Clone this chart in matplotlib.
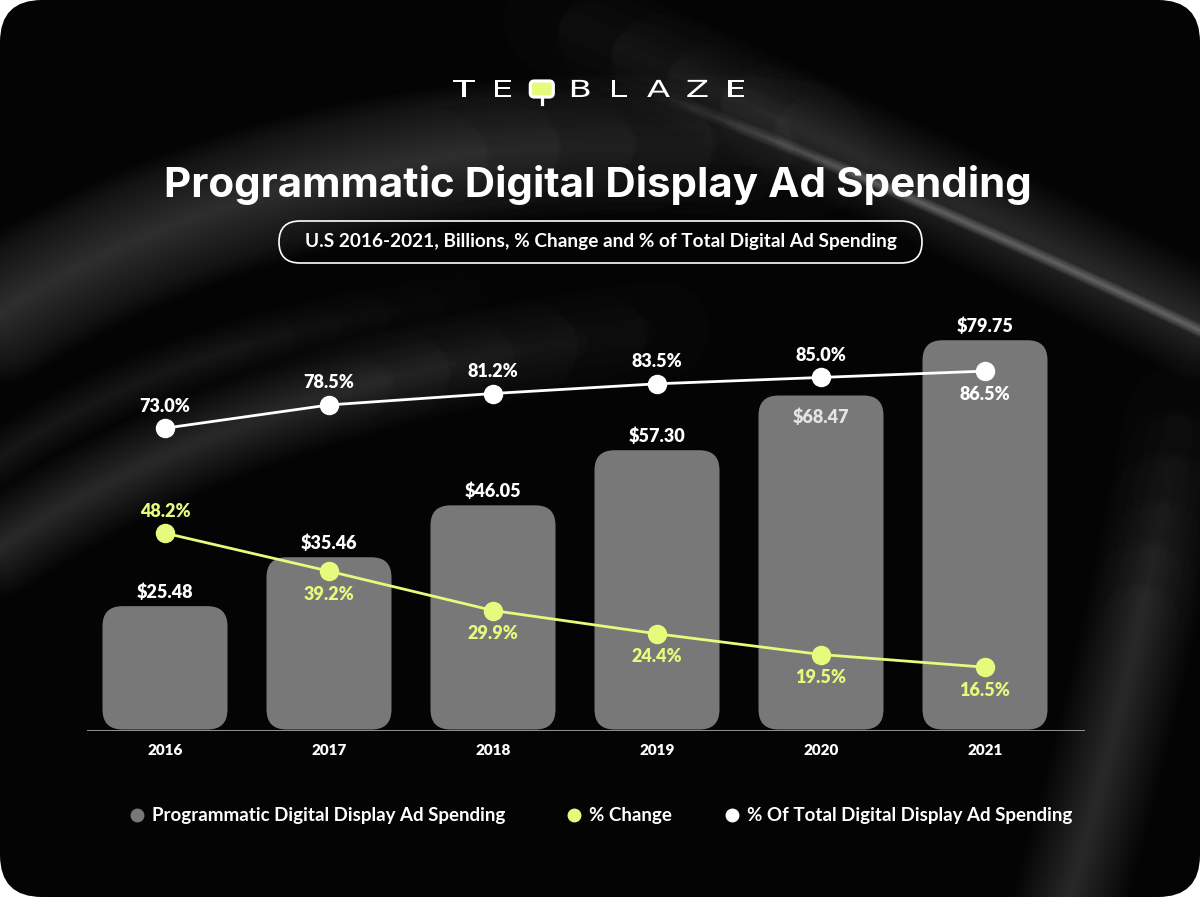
import numpy as np
import matplotlib
matplotlib.use("Agg")
import matplotlib.pyplot as plt
from matplotlib.patches import FancyBboxPatch, PathPatch
from matplotlib.textpath import TextPath
from matplotlib.font_manager import FontProperties
from matplotlib.transforms import Affine2D

# ---------- data ----------
years = ["2016", "2017", "2018", "2019", "2020", "2021"]
spending = [25.48, 35.46, 46.05, 57.30, 68.47, 79.75]
pct_change = [48.2, 39.2, 29.9, 24.4, 19.5, 16.5]
pct_total = [73.0, 78.5, 81.2, 83.5, 85.0, 86.5]

BAR_C = "#787878"
GREEN = "#e6fa7c"
WHITE = "#ffffff"
FONT = ["Lato", "DejaVu Sans"]
TITLE_FONT = ["Inter", "Lato", "DejaVu Sans"]

W, H = 1200, 897
fig = plt.figure(figsize=(12, 8.97), dpi=100, facecolor="white")

# ---------- background (pixel coords) ----------
bg = fig.add_axes([0, 0, 1, 1])
bg.set_xlim(0, W)
bg.set_ylim(H, 0)
bg.axis("off")
card = FancyBboxPatch((0, 0), W, H, boxstyle="round,pad=0,rounding_size=42",
                      fc="#040404", ec="none", zorder=0.5)
bg.add_patch(card)


def bezier(p0, p1, p2, n=160):
    t = np.linspace(0, 1, n)[:, None]
    pts = (1 - t) ** 2 * np.array(p0) + 2 * (1 - t) * t * np.array(p1) + t ** 2 * np.array(p2)
    return pts


def soft(p0, p1, p2, width, strength, color="#d0d0d0", fade_start=False, fade_end=False):
    # stack of faint strokes; layers stop at staggered points so the ends fade out
    pts = bezier(p0, p1, p2)
    n = len(pts)
    steps = 18
    for k in range(steps):
        lw = width * (1 - k / steps)
        f = ((k * 7) % steps) / steps
        i0 = int(n * 0.4 * f) if fade_start else 0
        i1 = n - int(n * 0.4 * f) if fade_end else n
        seg = pts[i0:i1]
        ln, = bg.plot(seg[:, 0], seg[:, 1], color=color, lw=lw, alpha=strength / steps,
                      solid_capstyle="round", zorder=0.8)
        ln.set_clip_path(card)


# swooshes
soft((560, 20), (900, 170), (1230, 340), 80, 0.22, fade_start=True)
soft((660, 95), (930, 200), (1230, 345), 10, 0.45, "#e8e8e8", fade_start=True)
soft((-40, 340), (280, 110), (800, 150), 100, 0.25, fade_end=True)
soft((-40, 575), (220, 380), (660, 330), 70, 0.22, fade_end=True)
soft((-40, 490), (120, 350), (460, 300), 40, 0.15, fade_end=True)
soft((1180, 420), (1130, 700), (1060, 930), 80, 0.18, fade_start=True)
soft((20, 900), (300, 760), (740, 800), 90, 0.10, fade_end=True)

# ---------- logo ----------
logo_prop = FontProperties(family="DejaVu Sans")
for i, ch in enumerate("TEQBLAZE"):
    x = 464 + i * 38.9
    if ch == "Q":
        bg.add_patch(FancyBboxPatch((x - 11.5, 81), 23, 16,
                                    boxstyle="round,pad=0,rounding_size=4",
                                    fc=GREEN, ec="white", lw=2.3, zorder=3))
        bg.plot([x, x], [97, 104], color="white", lw=2.3, zorder=3)
        continue
    tp = TextPath((0, 0), ch, size=23.5, prop=logo_prop)
    ext = tp.get_extents()
    tr = Affine2D().translate(-(ext.x0 + ext.x1) / 2, 0).scale(1.45, -1).translate(x, 97)
    bg.add_patch(PathPatch(tr.transform_path(tp), fc="white", ec="none", zorder=3))

# ---------- title and subtitle ----------
bg.text(598, 185, "Programmatic Digital Display Ad Spending", color="white",
        fontsize=30.3, fontweight="bold", family=TITLE_FONT, ha="center", va="center")
bg.add_patch(FancyBboxPatch((279, 221), 643, 42, boxstyle="round,pad=0,rounding_size=21",
                            fc="none", ec="white", lw=1.2, zorder=3))
bg.text(601, 242, "U.S 2016-2021, Billions, % Change and % of Total Digital Ad Spending",
        color="white", fontsize=13.7, fontweight="bold", family=FONT,
        ha="center", va="center")

# ---------- chart ----------
x0, x1 = 87, 1085
ybase, ytop = 731, 300
ax = fig.add_axes([x0 / W, (H - ybase) / H, (x1 - x0) / W, (ybase - ytop) / H])
ax.patch.set_alpha(0)
px_x = 164.0
px_bar = 4.9
px_pct = 4.23
zero_pct = 737
xs = np.arange(len(years))
ax.set_xlim(-(165 - x0) / px_x, (x1 - 165) / px_x)
ax.set_ylim(0, (ybase - ytop) / px_bar)

bw = 125 / px_x
aspect = (1 / px_bar) / (1 / px_x)
for i, (x, v) in enumerate(zip(xs, spending)):
    ax.add_patch(FancyBboxPatch((x - bw / 2, 0.3), bw, v - 0.3,
                                boxstyle=f"round,pad=0,rounding_size={20 / px_x}",
                                mutation_aspect=aspect, fc=BAR_C, ec="none", zorder=2))
    # the 2020 value sits inside its bar, under the white line
    off = -22 if years[i] == "2020" else 14
    col = "#e4e4e4" if years[i] == "2020" else "white"
    ax.annotate(f"${v:.2f}", (x, v), xytext=(0, off), textcoords="offset pixels",
                ha="center", va="center", color=col, fontsize=13,
                fontweight="heavy", family=FONT, zorder=5)

ax.axhline(0, color="#a0a0a0", lw=2, zorder=3)
for s in ax.spines.values():
    s.set_visible(False)
ax.set_yticks([])
ax.set_xticks(xs)
ax.set_xticklabels(years, color="white", fontsize=11, fontweight="heavy", family=FONT)
ax.tick_params(axis="x", length=0, pad=9)

ax2 = ax.twinx()
ax2.set_ylim((zero_pct - ybase) / px_pct, (zero_pct - ytop) / px_pct)
ax2.axis("off")
ax2.plot(xs, pct_total, color=WHITE, lw=2, marker="o", ms=13, zorder=4)
ax2.plot(xs, pct_change, color=GREEN, lw=2, marker="o", ms=13, zorder=4)
for i, v in enumerate(pct_total):
    off = -23 if i == len(xs) - 1 else 22
    ax2.annotate(f"{v:.1f}%", (xs[i], v), xytext=(0, off), textcoords="offset pixels",
                 ha="center", va="center", color="white", fontsize=13,
                 fontweight="heavy", family=FONT)
for i, v in enumerate(pct_change):
    off = 22 if i == 0 else -23
    ax2.annotate(f"{v:.1f}%", (xs[i], v), xytext=(0, off), textcoords="offset pixels",
                 ha="center", va="center", color=GREEN, fontsize=13,
                 fontweight="heavy", family=FONT)

# ---------- legend (drawn by hand to keep the spacing) ----------
leg_labels = ["Programmatic Digital Display Ad Spending", "% Change",
              "% Of Total Digital Display Ad Spending"]
leg_colors = [BAR_C, GREEN, WHITE]
leg_dot_x = [137, 574, 732]
for lab, col, dx in zip(leg_labels, leg_colors, leg_dot_x):
    bg.plot(dx, 815, "o", ms=9, color=col, zorder=3)
    bg.text(dx + 15, 815, lab, color="white", fontsize=13.5, fontweight="bold",
            family=FONT, ha="left", va="center")

fig.savefig("out.png", dpi=100, facecolor="white")
